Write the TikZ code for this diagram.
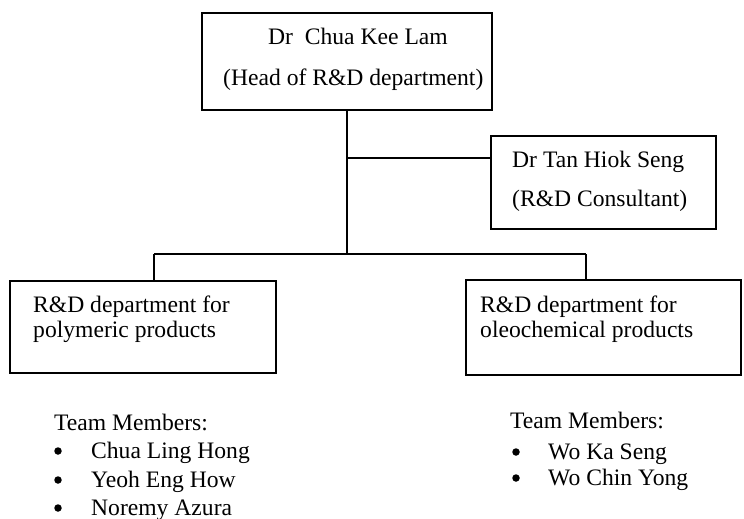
\documentclass[tikz,border=0pt]{standalone}
\usepackage{fontspec}
\setmainfont{Liberation Serif}
\begin{document}
\begin{tikzpicture}[x=1pt,y=-1pt,
  box/.style={draw,line width=1.7pt,inner sep=0pt},
  wire/.style={line width=1.7pt},
  txt/.style={inner sep=0pt,anchor=base west,font=\fontsize{23.6}{24}\selectfont},
  dot/.style={circle,fill=black,inner sep=0pt,minimum size=7.5pt}]
\useasboundingbox (0,0) rectangle (744,519);

% boxes: (left,top) to (right,bottom)
\node[box,minimum width=290pt,minimum height=97pt] (head) at (347,61.5) {};
\node[box,minimum width=225pt,minimum height=93pt] (cons) at (603.5,182.5) {};
\node[box,minimum width=266pt,minimum height=92pt] (poly) at (143,327) {};
\node[box,minimum width=275pt,minimum height=95pt] (oleo) at (603.5,327.5) {};

% junction points of the connector tree
\coordinate (tee) at (head.south |- 0,158);
\coordinate (bus) at (head.south |- 0,254);
\coordinate (busL) at (154,254);
\coordinate (busR) at (586,254);

\draw[wire] (head.south) -- (bus);
\draw[wire] (tee) -- (tee -| cons.west);
\draw[wire] (busL) -- (busR);
\draw[wire] (busL) -- (busL |- poly.north);
\draw[wire] (busR) -- (busR |- oleo.north);

% box texts
\node[txt] (h1) at (268,45) {Dr\ \ Chua Kee Lam};
\node[txt] (h2) at (223,85) {(Head of R\&D department)};
\node[txt] (c1) at (512,167) {Dr Tan Hiok Seng};
\node[txt] (c2) at (512,206) {(R\&D Consultant)};
\node[txt] (p1) at (33,312) {R\&D department for};
\node[txt] (p2) at (33,337) {polymeric products};
\node[txt] (o1) at (480,312) {R\&D department for};
\node[txt] (o2) at (480,337) {oleochemical products};

% team lists
\node[txt] (tl) at (54,430) {Team Members:};
\node[dot] (bl1) at (58,451) {};
\node[txt] (l1) at (91,458) {Chua Ling Hong};
\node[dot] (bl2) at (58,480) {};
\node[txt] (l2) at (91,487) {Yeoh Eng How};
\node[dot] (bl3) at (58,508) {};
\node[txt] (l3) at (91,515) {Noremy Azura};

\node[txt] (tr) at (510,428) {Team Members:};
\node[dot] (br1) at (516,452) {};
\node[txt] (r1) at (548,459) {Wo Ka Seng};
\node[dot] (br2) at (516,478) {};
\node[txt] (r2) at (548,485) {Wo Chin Yong};
\end{tikzpicture}
\end{document}
